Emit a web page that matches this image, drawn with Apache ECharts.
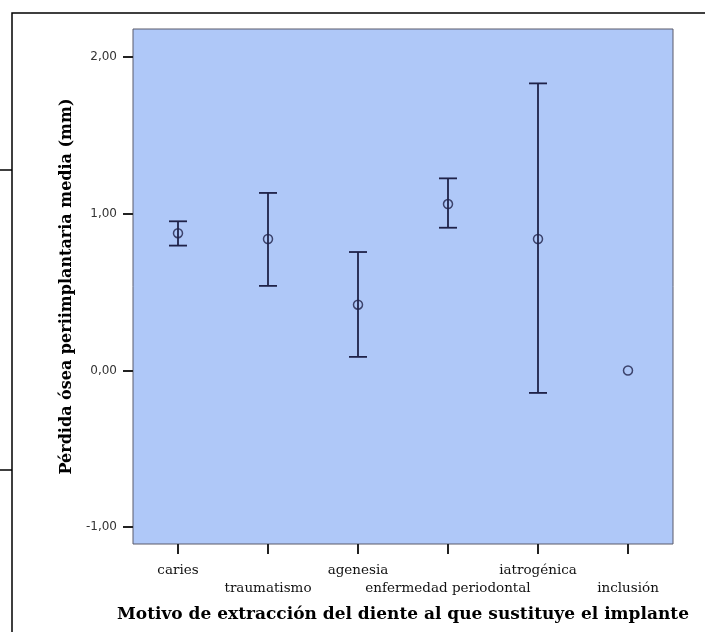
<!DOCTYPE html>
<html>
<head>
<meta charset="utf-8">
<script src="https://cdn.jsdelivr.net/npm/echarts@6/dist/echarts.min.js"></script>
<style>
  html, body { margin: 0; padding: 0; background: #ffffff; }
  #box { width: 705px; height: 632px; }
</style>
</head>
<body>
<div id="box"></div>
<script>
// motivos de extracción (eje X)
var categories = ['caries', 'traumatismo', 'agenesia', 'enfermedad periodontal', 'iatrogénica', 'inclusión'];
// media e intervalo de confianza (mm)
var means = [0.876, 0.839, 0.420, 1.062, 0.839, 0.0];
var lower = [0.797, 0.540, 0.087, 0.911, -0.143, null];
var upper = [0.952, 1.133, 0.756, 1.226, 1.832, null];
var yTicks = [-1, 0, 1, 2];

var ink = '#1f2248';

var myChart = echarts.init(document.getElementById('box'));

var barData = [];
for (var i = 0; i < categories.length; i++) {
  if (lower[i] !== null) barData.push([i, lower[i], upper[i]]);
}

var option = {
  animation: false,
  backgroundColor: '#ffffff',
  grid: {
    left: 133, right: 32, top: 29, bottom: 88,
    show: true,
    backgroundColor: '#afc8f8',
    borderColor: '#5a5a6a',
    borderWidth: 1
  },
  xAxis: {
    type: 'category',
    data: categories,
    boundaryGap: true,
    axisLine: { show: false, onZero: false },
    axisTick: { show: true, alignWithLabel: true, length: 10, lineStyle: { color: '#222', width: 2 } },
    axisLabel: {
      interval: 0,
      margin: 17,
      fontFamily: 'DejaVu Serif',
      fontSize: 13.5,
      color: '#111',
      lineHeight: 18,
      formatter: function (v, idx) { return idx % 2 ? '\n' + v : v; }
    },
    name: 'Motivo de extracción del diente al que sustituye el implante',
    nameLocation: 'middle',
    nameGap: 62,
    nameTextStyle: { fontFamily: 'DejaVu Serif', fontWeight: 'bold', fontSize: 17, color: '#000' }
  },
  yAxis: {
    type: 'value',
    min: -1.107,
    max: 2.179,
    splitLine: { show: false },
    axisLine: { show: false, onZero: false },
    axisTick: { show: true, length: 10, customValues: yTicks, lineStyle: { color: '#222', width: 2 } },
    axisLabel: {
      customValues: yTicks,
      margin: 16,
      fontFamily: 'DejaVu Sans',
      fontSize: 12,
      color: '#333',
      formatter: function (v) { return v.toFixed(2).replace('.', ','); }
    },
    name: 'Pérdida ósea periimplantaria media (mm)',
    nameLocation: 'middle',
    nameGap: 50,
    nameTextStyle: { fontFamily: 'DejaVu Serif', fontWeight: 'bold', fontSize: 16, color: '#000' }
  },
  graphic: [
    { type: 'rect', shape: { x: 12, y: 13, width: 720, height: 660 }, style: { fill: 'none', stroke: '#000', lineWidth: 1.5 }, silent: true },
    { type: 'line', shape: { x1: 0, y1: 170, x2: 12, y2: 170 }, style: { stroke: '#000', lineWidth: 1.5 }, silent: true },
    { type: 'line', shape: { x1: 0, y1: 470, x2: 12, y2: 470 }, style: { stroke: '#000', lineWidth: 1.5 }, silent: true }
  ],
  series: [
    {
      type: 'custom',
      data: barData,
      renderItem: function (params, api) {
        var x = api.value(0);
        var lo = api.coord([x, api.value(1)]);
        var hi = api.coord([x, api.value(2)]);
        var hw = 9;
        var st = { stroke: ink, lineWidth: 1.8 };
        return {
          type: 'group',
          children: [
            { type: 'line', shape: { x1: lo[0], y1: lo[1], x2: hi[0], y2: hi[1] }, style: st },
            { type: 'line', shape: { x1: hi[0] - hw, y1: hi[1], x2: hi[0] + hw, y2: hi[1] }, style: st },
            { type: 'line', shape: { x1: lo[0] - hw, y1: lo[1], x2: lo[0] + hw, y2: lo[1] }, style: st }
          ]
        };
      },
      z: 2
    },
    {
      type: 'scatter',
      data: means,
      symbol: 'circle',
      symbolSize: 9,
      itemStyle: { color: 'rgba(0,0,0,0)', borderColor: ink, borderWidth: 1.5 },
      z: 3
    }
  ]
};

myChart.setOption(option);
</script>
</body>
</html>
